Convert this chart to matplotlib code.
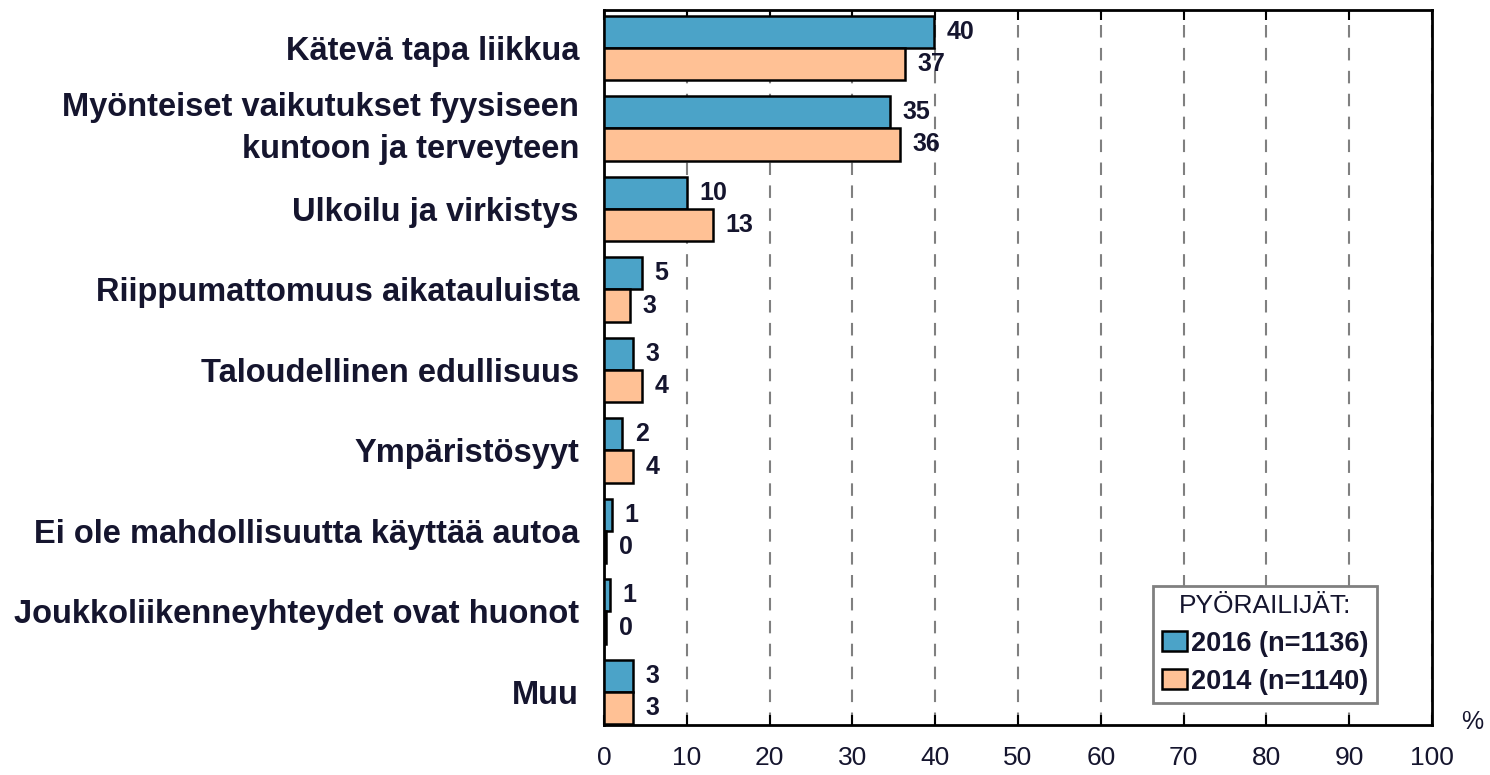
import matplotlib
matplotlib.use("Agg")
import matplotlib.pyplot as plt
import numpy as np

# ========== Data ==========
categories = [
    "Kätevä tapa liikkua",
    "Myönteiset vaikutukset fyysiseen\nkuntoon ja terveyteen",
    "Ulkoilu ja virkistys",
    "Riippumattomuus aikatauluista",
    "Taloudellinen edullisuus",
    "Ympäristösyyt",
    "Ei ole mahdollisuutta käyttää autoa",
    "Joukkoliikenneyhteydet ovat huonot",
    "Muu",
]
vals_2016 = [39.9, 34.6, 10.0, 4.6, 3.5, 2.2, 1.0, 0.7, 3.5]
vals_2014 = [36.4, 35.7, 13.2, 3.1, 4.6, 3.5, 0.3, 0.3, 3.5]
lbl_2016 = ["40", "35", "10", "5", "3", "2", "1", "1", "3"]
lbl_2014 = ["37", "36", "13", "3", "4", "4", "0", "0", "3"]
xticks = [0, 10, 20, 30, 40, 50, 60, 70, 80, 90, 100]

# ========== Plot ==========
plt.rcParams['font.family'] = ['Liberation Sans', 'DejaVu Sans']
txt = "#15152e"

fig = plt.figure(figsize=(14.9, 7.75), dpi=100)
ax = fig.add_axes([604/1490, 1 - 725/775, (1432-604)/1490, (725-10)/775])

y = np.arange(len(categories))
h = 0.4
blue = "#4BA3C8"
orange = "#FFC195"

b1 = ax.barh(y - h/2, vals_2016, height=h, color=blue, edgecolor="black", linewidth=1.8,
             label="2016 (n=1136)", zorder=3)
b2 = ax.barh(y + h/2, vals_2014, height=h, color=orange, edgecolor="black", linewidth=1.8,
             label="2014 (n=1140)", zorder=3)

for yi, v, t in zip(y, vals_2016, lbl_2016):
    ax.text(v + 1.5, yi - h/2, t, va="center", ha="left", fontsize=18, fontweight="bold",
            color=txt)
for yi, v, t in zip(y, vals_2014, lbl_2014):
    ax.text(v + 1.5, yi + h/2, t, va="center", ha="left", fontsize=18, fontweight="bold",
            color=txt)

ax.set_xlim(0, 100)
ax.set_ylim(len(categories) - 1 + 0.41, -0.47)
ax.set_xticks(xticks)
ax.set_xticklabels([str(x) for x in xticks], fontsize=19, color=txt)
ax.tick_params(axis="x", direction="in", top=True, length=7, width=1.5, pad=15)
ax.set_yticks(y)
ax.set_yticklabels(categories, fontsize=23.5, fontweight="bold", linespacing=1.45, color=txt)
ax.tick_params(axis="y", length=0, pad=18)
for lab in ax.get_yticklabels():
    if "\n" in lab.get_text():
        lab.set_va("center")
ax.xaxis.grid(True, linestyle=(0, (6, 5)), color="#808080", linewidth=1.5, zorder=0)

for s in ax.spines.values():
    s.set_linewidth(2)

fig.text(1472/1490, 1 - 722/775, "%", fontsize=18, ha="center", va="center", color=txt)

leg = ax.legend(handles=[b1, b2], loc="lower right", bbox_to_anchor=(0.9336, 0.0308),
                borderaxespad=0, title="PYÖRAILIJÄT:", title_fontsize=19, fancybox=False,
                prop={"size": 19.5, "weight": "bold"}, handlelength=0.95, handleheight=0.75,
                handletextpad=0.15, borderpad=0.3, labelspacing=0.45, framealpha=1)
leg.get_frame().set_edgecolor("#808080")
leg.get_frame().set_linewidth(2)
for t in leg.get_texts():
    t.set_color(txt)
leg.get_title().set_color(txt)

plt.savefig("out.png")
